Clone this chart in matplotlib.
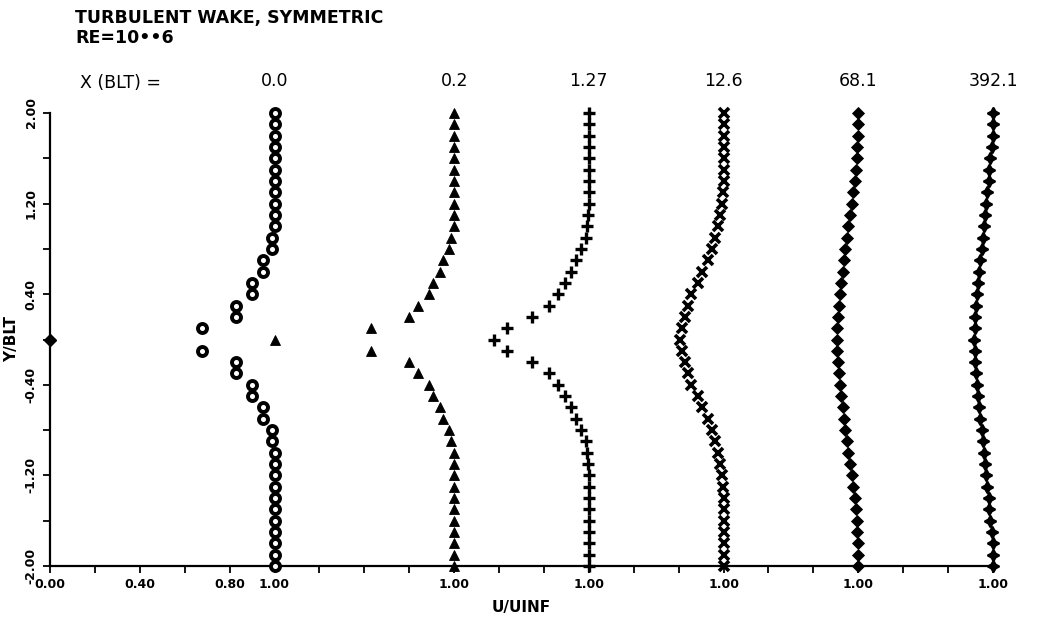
#!/usr/bin/env python3
"""
Velocity profiles in a symmetric turbulent wake, stacked along a shared U/UINF axis.
"""

import matplotlib
matplotlib.use("Agg")
import matplotlib.pyplot as plt
import numpy as np

# Stations downstream of the trailing edge, X/BLT
station_labels = ["0.0", "0.2", "1.27", "12.6", "68.1", "392.1"]
# Each profile is shifted right by this much on the shared axis
station_shift = [0.0, 0.8, 1.4, 2.0, 2.6, 3.2]

# Half-profile heights Y/BLT (the wake is symmetric about Y=0)
y_half = [0.0, 0.1, 0.2, 0.3, 0.4, 0.5, 0.6, 0.7, 0.8, 0.9, 1.0,
          1.1, 1.2, 1.3, 1.4, 1.5, 1.6, 1.7, 1.8, 1.9, 2.0]

# U/UINF at each height, one list per station
u_x000 = [0.0, 0.675, 0.83, 0.83, 0.90, 0.90, 0.95, 0.95, 0.987, 0.987, 1.0,
          1.0, 1.0, 1.0, 1.0, 1.0, 1.0, 1.0, 1.0, 1.0, 1.0]
u_x020 = [0.2, 0.63, 0.80, 0.84, 0.889, 0.906, 0.938, 0.951, 0.978, 0.987, 0.998,
          1.0, 1.0, 1.0, 1.0, 1.0, 1.0, 1.0, 1.0, 1.0, 1.0]
u_x127 = [0.577, 0.635, 0.746, 0.822, 0.862, 0.893, 0.92, 0.942, 0.964, 0.987, 0.99,
          0.995, 1.0, 1.0, 1.0, 1.0, 1.0, 1.0, 1.0, 1.0, 1.0]
u_x126 = [0.808, 0.813, 0.826, 0.84, 0.857, 0.884, 0.906, 0.929, 0.947, 0.962, 0.975,
          0.985, 0.992, 0.997, 1.0, 1.0, 1.0, 1.0, 1.0, 1.0, 1.0]
u_x681 = [0.905, 0.906, 0.908, 0.912, 0.918, 0.922, 0.93, 0.937, 0.942, 0.949, 0.956,
          0.964, 0.971, 0.978, 0.984, 0.988, 0.993, 0.996, 0.999, 1.0, 1.0]
u_x3921 = [0.917, 0.918, 0.921, 0.925, 0.929, 0.934, 0.938, 0.943, 0.949, 0.955, 0.959,
           0.965, 0.971, 0.975, 0.98, 0.984, 0.988, 0.995, 0.999, 1.0, 1.0]

profiles = [u_x000, u_x020, u_x127, u_x126, u_x681, u_x3921]

# plotter symbol for each station
symbols = [
    dict(marker="o", ms=6.5, mfc="white", mec="black", mew=2.8),
    dict(marker="^", ms=7, mfc="black", mec="black", mew=0.6),
    dict(marker="+", ms=8, mec="black", mew=2.4),
    dict(marker="x", ms=6.5, mec="black", mew=2.6),
    dict(marker="D", ms=6, mfc="black", mec="black", mew=0.6),
    dict(marker=(4, 1, 0), ms=8.5, mfc="black", mec="black", mew=1.4),
]

tick_pos = np.round(np.arange(0.0, 4.21, 0.2), 1)
tick_text = {0.0: "0.00", 0.4: "0.40", 0.8: "0.80", 1.0: "1.00",
             1.8: "1.00", 2.4: "1.00", 3.0: "1.00", 3.6: "1.00", 4.2: "1.00"}
ytick_pos = np.round(np.arange(-2.0, 2.01, 0.4), 1)
ytick_text = {2.0: "2.00", 1.2: "1.20", 0.4: "0.40",
              -0.4: "-0.40", -1.2: "-1.20", -2.0: "-2.00"}

plt.rcParams["font.family"] = "DejaVu Sans"

fig = plt.figure(figsize=(10.37, 6.23), dpi=100)
ax = fig.add_axes([50 / 1037, 1 - 566 / 623, 943 / 1037, 453 / 623])

for i, (u_half, shift, sym) in enumerate(zip(profiles, station_shift, symbols)):
    u_half = np.asarray(u_half)
    y = np.asarray(y_half)
    # mirror the upper half to get the full symmetric profile
    if i == 0:
        # centreline point of the first station sits on the axis
        ax.plot([u_half[0] + shift], [0.0], linestyle="none", marker="D",
                ms=6.5, mfc="black", mec="black", clip_on=False, zorder=4)
        yy = np.concatenate([-y[:0:-1], y[1:]])
        uu = np.concatenate([u_half[:0:-1], u_half[1:]])
    else:
        yy = np.concatenate([-y[:0:-1], y])
        uu = np.concatenate([u_half[:0:-1], u_half])
    ax.plot(uu + shift, yy, linestyle="none", color="black",
            clip_on=False, zorder=3, **sym)

ax.set_xlim(0.0, 4.2)
ax.set_ylim(-2.0, 2.0)

for side in ("top", "right"):
    ax.spines[side].set_visible(False)
for side in ("left", "bottom"):
    ax.spines[side].set_linewidth(1.6)

ax.set_xticks(tick_pos)
ax.set_xticklabels([tick_text.get(float(t), "") for t in tick_pos],
                   fontsize=9, fontweight="bold")
ax.set_yticks(ytick_pos)
ax.set_yticklabels([ytick_text.get(float(t), "") for t in ytick_pos],
                   fontsize=9, fontweight="bold", rotation=90, va="center")
ax.tick_params(axis="both", direction="out", length=5, width=1.3, pad=4)

ax.set_xlabel("U/UINF", fontsize=11, fontweight="bold", labelpad=6)
ax.set_ylabel("Y/BLT", fontsize=11, fontweight="bold", labelpad=4)

# station labels above each profile
for label, shift in zip(station_labels, station_shift):
    ax.text(shift + 1.0, 1.07, label, transform=ax.get_xaxis_transform(),
            ha="center", va="center", fontsize=12.5)
fig.text(80 / 1037, 1 - 83 / 623, "X (BLT) =", ha="left", va="center", fontsize=12.5)

fig.text(75 / 1037, 1 - 18 / 623, "TURBULENT WAKE, SYMMETRIC",
         ha="left", va="center", fontsize=12.5, fontweight="bold")
fig.text(75 / 1037, 1 - 38 / 623, "RE=10\u2022\u20226",
         ha="left", va="center", fontsize=12.5, fontweight="bold")

fig.savefig("out.png", dpi=100)
